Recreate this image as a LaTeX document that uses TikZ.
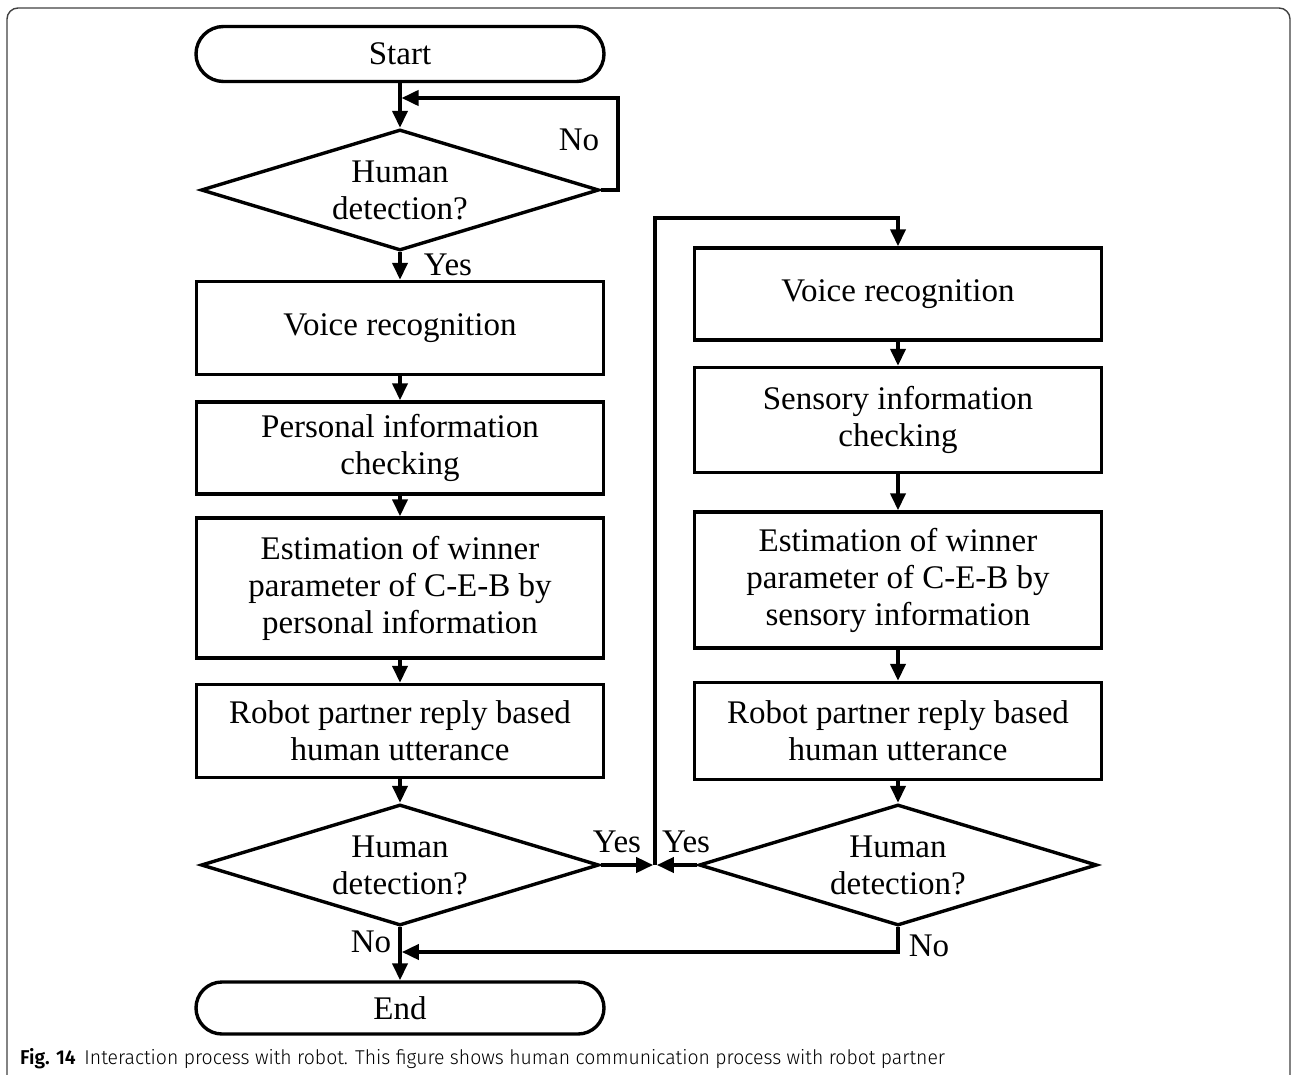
\documentclass[tikz,border=0pt]{standalone}
\usepackage{fontspec}
\setmainfont{Liberation Serif}
\newfontfamily\capfont{Fira Sans Light}[BoldFont={Fira Sans SemiBold}]
\usetikzlibrary{arrows.meta,shapes.geometric,shapes.misc}

\begin{document}
\begin{tikzpicture}[x=1pt,y=-1pt,
  txt/.style={font=\fontsize{33}{37}\selectfont},
  flow/.style={line width=3.8pt},
  arr/.style={flow,-{Triangle[length=17pt,width=15pt]}},
  procbox/.style={draw,line width=3.4pt,minimum width=407pt,inner sep=0pt,align=center,txt},
  term/.style={draw,rounded rectangle,line width=3.4pt,minimum width=408pt,inner sep=0pt,txt},
  decision/.style={draw,diamond,aspect=3.25,line width=3.4pt,minimum width=398pt,minimum height=121pt,inner sep=0pt,align=center,txt},
  lbl/.style={inner sep=0pt,txt}
]
\useasboundingbox (0,0) rectangle (1292,1075);

% outer frame, open at the bottom
\draw[black!75,line width=1.4pt,rounded corners=11pt] (7,1076) -- (7,8) -- (1290,8) -- (1290,1076);

% left column
\node[term,minimum height=55pt] (start) at (400,54) {Start};
\node[decision] (d1) at (400,190) {Human\\detection?};
\node[procbox,minimum height=93pt] (v1) at (400,328) {Voice recognition};
\node[procbox,minimum height=92pt] (p1) at (400,448) {Personal information\\checking};
\node[procbox,minimum height=140pt] (e1) at (400,588) {Estimation of winner\\parameter of C-E-B by\\personal information};
\node[procbox,minimum height=93pt] (r1) at (400,731) {Robot partner reply based\\human utterance};
\node[decision] (d2) at (400,865) {Human\\detection?};
\node[term,minimum height=52pt] (end) at (400,1008) {End};

% right column
\node[procbox,minimum height=92pt] (v2) at (898,294) {Voice recognition};
\node[procbox,minimum height=105pt] (s2) at (898,420) {Sensory information\\checking};
\node[procbox,minimum height=136pt] (e2) at (898,580) {Estimation of winner\\parameter of C-E-B by\\sensory information};
\node[procbox,minimum height=97pt] (r2) at (898,731) {Robot partner reply based\\human utterance};
\node[decision] (d3) at (898,865) {Human\\detection?};

% routing points
\coordinate (loopc) at (618,98);
\coordinate (jn) at (655,865);
\coordinate (up) at (655,218);
\coordinate (mg) at (400,952);

% connectors
\draw[arr] (start) -- (d1);
\draw[arr,shorten >=1.5pt] (d1.east) -| (loopc) -- (start.south |- loopc);
\draw[arr] (d1) -- (v1);
\draw[arr] (v1) -- (p1);
\draw[arr] (p1) -- (e1);
\draw[arr] (e1) -- (r1);
\draw[arr] (r1) -- (d2);
\draw[arr] (d2) -- (end);
\draw[arr,shorten >=1.8pt] (d2.east) -- (jn);
\draw[arr,shorten >=1.8pt] (d3.west) -- (jn);
\draw[arr] (jn) -- (up) -| (v2.north);
\draw[arr] (v2) -- (s2);
\draw[arr] (s2) -- (e2);
\draw[arr] (e2) -- (r2);
\draw[arr] (r2) -- (d3);
\draw[arr,shorten >=1.8pt] (d3.south) |- (mg);

% branch labels
\node[lbl] (no1) at (579,140) {No};
\node[lbl] (yes1) at (448,265) {Yes};
\node[lbl] (yes2) at (617,842) {Yes};
\node[lbl] (yes3) at (686,842) {Yes};
\node[lbl] (no2) at (371,942) {No};
\node[lbl] (no3) at (929,946) {No};

% caption
\node[anchor=base west,inner sep=0pt,font=\capfont\fontsize{20}{24}\selectfont] (cap) at (20,1064)
  {\scalebox{0.97}[1]{\textbf{Fig. 14}\hspace{9pt}Interaction process with robot. This figure shows human communication process with robot partner}};
\end{tikzpicture}
\end{document}
